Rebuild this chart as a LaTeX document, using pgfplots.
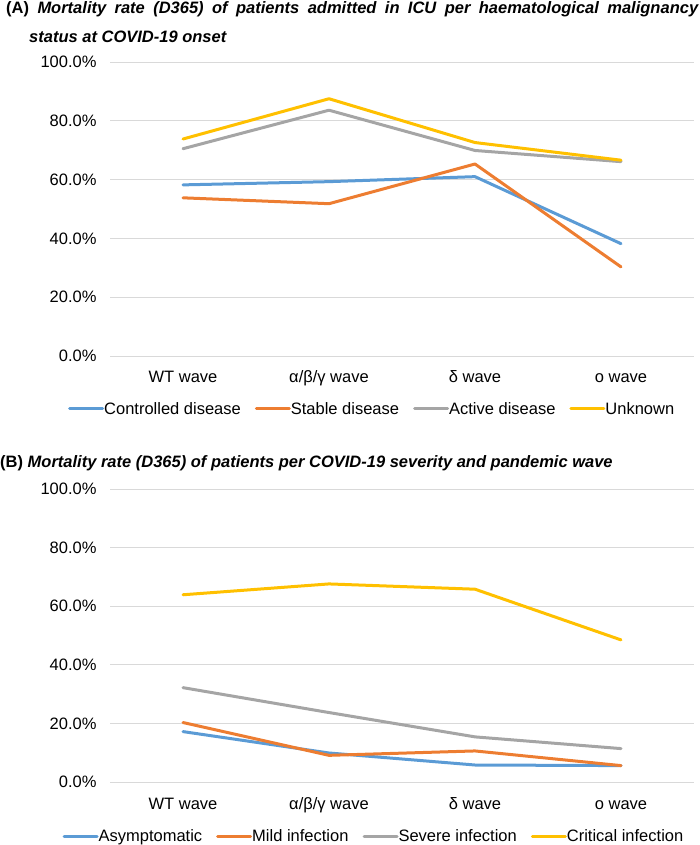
\documentclass[border=0pt]{standalone}
\usepackage{pgfplots}
\pgfplotsset{compat=1.18}
\usepackage{pgfplotstable}
\usepackage{fontspec}
\setmainfont{Liberation Sans}

\definecolor{cblue}{HTML}{5B9BD5}
\definecolor{corange}{HTML}{ED7D31}
\definecolor{cgray}{HTML}{A5A5A5}
\definecolor{cgold}{HTML}{FFC000}

% panel A: status at onset
\pgfplotstableread{
x ctrl stable active unknown
0 58.2 53.8 70.5 73.8
1 59.3 51.8 83.6 87.5
2 61.0 65.3 69.9 72.6
3 38.2 30.3 66.1 66.6
}\statustab

% panel B: severity
\pgfplotstableread{
x asym mild severe critical
0 17.2 20.3 32.2 63.9
1  9.9  9.1 23.7 67.6
2  5.8 10.6 15.4 65.8
3  5.6  5.6 11.4 48.5
}\severitytab

\pgfplotsset{
  wavechart/.style={
    scale only axis,
    width=584pt,
    xmin=-0.5, xmax=3.5,
    ymin=0, ymax=100,
    xtick={0,1,2,3},
    xticklabels={WT wave, α/β/γ wave, δ wave, o wave},
    ytick={0,20,...,100},
    yticklabel={\pgfmathprintnumber[fixed,fixed zerofill,precision=1]{\tick}\%},
    /pgf/number format/assume math mode=true,
    ymajorgrids,
    grid style={color=black!15, line width=0.9pt},
    axis line style={draw=none},
    tick style={draw=none},
    tick label style={font=\fontsize{16.5}{19}\selectfont},
    yticklabel style={xshift=-10pt},
    xticklabel style={anchor=base, yshift=-27pt},
    legend columns=4,
    legend style={draw=none, fill=none, anchor=center,
      font=\fontsize{16.5}{19}\selectfont,
      /tikz/every even column/.append style={column sep=12pt},
      /tikz/every odd column/.append style={column sep=-2pt}},
    legend image code/.code={\draw[#1] (0pt,0pt) -- (33pt,0pt);},
    every axis plot/.append style={line width=3pt, line join=round, line cap=round},
  }
}

\begin{document}
\begin{tikzpicture}
\path[use as bounding box] (0,0) rectangle (699pt,845pt);

% titles
\node[anchor=west, inner sep=0pt] at (6pt,836pt)
  {\makebox[692pt][s]{\fontsize{16.5}{19}\selectfont\bfseries (A) \itshape Mortality rate (D365) of patients admitted in ICU per haematological malignancy}};
\node[anchor=west, inner sep=0pt] at (29pt,808pt)
  {\fontsize{16.5}{19}\selectfont\bfseries\itshape status at COVID-19 onset};
\node[anchor=west, inner sep=0pt] at (0pt,382pt)
  {\fontsize{16.5}{19}\selectfont\bfseries (B) \itshape Mortality rate (D365) of patients per COVID-19 severity and pandemic wave};

\begin{axis}[wavechart, at={(110pt,489pt)}, anchor=south west, height=294pt,
  legend style={at={(0.449,-0.18)}}]
  \addplot[cblue] table[x=x, y=ctrl] {\statustab};
  \addlegendentry{Controlled disease}
  \addplot[corange] table[x=x, y=stable] {\statustab};
  \addlegendentry{Stable disease}
  \addplot[cgray] table[x=x, y=active] {\statustab};
  \addlegendentry{Active disease}
  \addplot[cgold] table[x=x, y=unknown] {\statustab};
  \addlegendentry{Unknown}
\end{axis}

\begin{axis}[wavechart, at={(110pt,63pt)}, anchor=south west, height=293pt,
  legend style={at={(0.452,-0.185)}}]
  \addplot[cblue] table[x=x, y=asym] {\severitytab};
  \addlegendentry{Asymptomatic}
  \addplot[corange] table[x=x, y=mild] {\severitytab};
  \addlegendentry{Mild infection}
  \addplot[cgray] table[x=x, y=severe] {\severitytab};
  \addlegendentry{Severe infection}
  \addplot[cgold] table[x=x, y=critical] {\severitytab};
  \addlegendentry{Critical infection}
\end{axis}
\end{tikzpicture}
\end{document}
